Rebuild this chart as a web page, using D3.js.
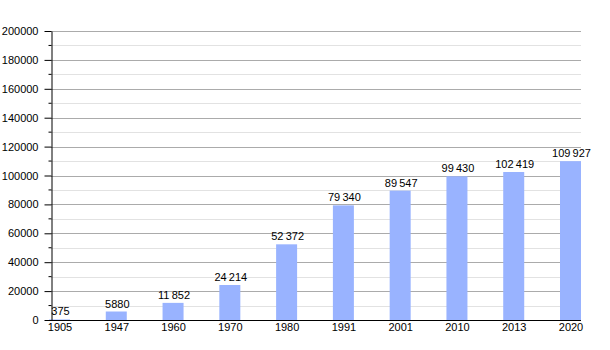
<!DOCTYPE html>
<html>
<head>
<meta charset="utf-8">
<script src="https://cdn.jsdelivr.net/npm/d3@7"></script>
<style>
  html, body { margin: 0; padding: 0; background: #fff; }
  svg text { font-family: "Liberation Sans", Arial, Helvetica, sans-serif; fill: #000; }
</style>
</head>
<body>
<svg id="chart" width="610" height="350"></svg>
<script>
// Population by census year
const years = ["1905", "1947", "1960", "1970", "1980", "1991", "2001", "2010", "2013", "2020"];
const population = [375, 5880, 11852, 24214, 52372, 79340, 89547, 99430, 102419, 109927];
const yMajorTicks = [0, 20000, 40000, 60000, 80000, 100000, 120000, 140000, 160000, 180000, 200000];
const yMinorTicks = [10000, 30000, 50000, 70000, 90000, 110000, 130000, 150000, 170000, 190000];

const svg = d3.select("#chart");
const plot = { left: 51, right: 581, top: 31, bottom: 320 };
const barWidth = 21;

const x = d3.scalePoint().domain(years).range([59.5, 570.5]);
const y = d3.scaleLinear().domain([0, 200000]).range([plot.bottom, plot.top]);

// grid lines
svg.append("g").selectAll("line").data(yMinorTicks).join("line")
  .attr("x1", plot.left).attr("x2", plot.right)
  .attr("y1", d => Math.round(y(d)) + 0.5).attr("y2", d => Math.round(y(d)) + 0.5)
  .attr("stroke", "#e2e2e2").attr("stroke-width", 1);
svg.append("g").selectAll("line").data(yMajorTicks.filter(d => d > 0)).join("line")
  .attr("x1", plot.left).attr("x2", plot.right)
  .attr("y1", d => Math.round(y(d)) + 0.5).attr("y2", d => Math.round(y(d)) + 0.5)
  .attr("stroke", "#ababab").attr("stroke-width", 1);

// bars
svg.append("g").selectAll("rect").data(population).join("rect")
  .attr("x", (d, i) => x(years[i]) - barWidth / 2)
  .attr("width", barWidth)
  .attr("y", d => y(d))
  .attr("height", d => plot.bottom - y(d))
  .attr("fill", "#99b3ff");

// value labels
const fmt = v => v >= 10000 ? d3.format(",")(v).replace(/,/g, "\u2009") : String(v);
svg.append("g").selectAll("text").data(population).join("text")
  .attr("x", (d, i) => x(years[i]) + 1)
  .attr("y", d => y(d) - 4)
  .attr("text-anchor", "middle")
  .attr("font-size", "11px")
  .text(fmt);

// y axis
const yAxis = svg.append("g").attr("transform", `translate(${plot.left + 0.5},0)`);
yAxis.call(d3.axisLeft(y).tickValues(yMajorTicks).tickSize(7).tickSizeOuter(0).tickFormat(d3.format("d")));
yAxis.selectAll(".tick text").attr("font-size", "11px").attr("font-family", null).attr("x", -13);
yAxis.select(".domain").attr("stroke", "#000");
yAxis.selectAll(".tick line").attr("stroke", "#000");
yAxis.append("g").selectAll("line").data(yMinorTicks).join("line")
  .attr("x1", -3).attr("x2", 0)
  .attr("y1", d => y(d)).attr("y2", d => y(d))
  .attr("stroke", "#000");

// x axis
const xAxis = svg.append("g").attr("transform", `translate(0,${plot.bottom + 0.5})`);
xAxis.call(d3.axisBottom(x).tickSize(0).tickSizeOuter(0).tickPadding(3));
xAxis.select(".domain").attr("d", `M${plot.left},0H${plot.right}`).attr("stroke", "#000");
xAxis.selectAll(".tick text").attr("font-size", "11px").attr("font-family", null);
svg.selectAll(".tick text").attr("fill", "#000");
</script>
</body>
</html>
